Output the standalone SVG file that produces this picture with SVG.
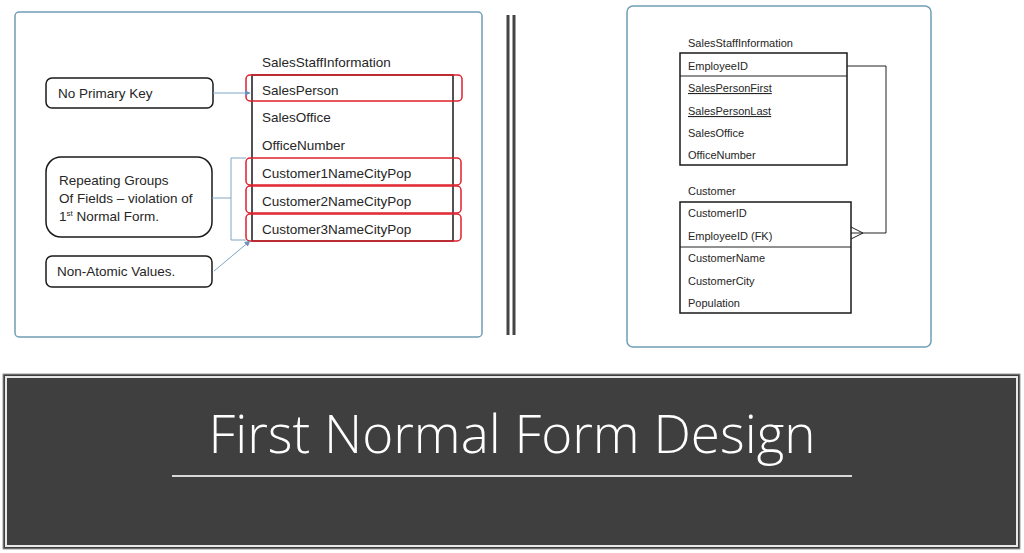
<svg xmlns="http://www.w3.org/2000/svg" width="1024" height="553" viewBox="0 0 1024 553">
<style>
.panel{fill:#fff;stroke:#6f9fb4;stroke-width:1.5}
.t{font-family:"Liberation Sans",Arial,sans-serif;font-size:13.5px;fill:#262626}
.s{font-family:"Liberation Sans",Arial,sans-serif;font-size:11px;fill:#262626}
.box{fill:#fff;stroke:#1a1a1a;stroke-width:1.5}
.red{fill:none;stroke:#e0212b;stroke-width:1.5}
.conn{fill:none;stroke:#7fa6c4;stroke-width:1}
.blk{fill:none;stroke:#222;stroke-width:1}
</style>
<defs>
<marker id="ah" viewBox="0 0 10 10" refX="9" refY="5" markerWidth="6" markerHeight="6" orient="auto"><path d="M0,0 L10,5 L0,10 z" fill="#6f8fc0"/></marker>
</defs>
<rect width="1024" height="553" fill="#fff"/>
<g id="left-panel">
<rect class="panel" x="15" y="12" width="467" height="325" rx="4"/>
</g>
<g id="table-1nf">
<text class="t" x="262" y="67">SalesStaffInformation</text>
<rect fill="none" stroke="#1a1a1a" stroke-width="1.5" x="252" y="75" width="201" height="166"/>
<text class="t" x="262" y="95">SalesPerson</text>
<text class="t" x="262" y="122">SalesOffice</text>
<text class="t" x="262" y="150">OfficeNumber</text>
<text class="t" x="262" y="178">Customer1NameCityPop</text>
<text class="t" x="262" y="206">Customer2NameCityPop</text>
<text class="t" x="262" y="234">Customer3NameCityPop</text>
<rect class="red" x="246" y="75" width="216" height="26" rx="4"/>
<rect class="red" x="246" y="158" width="215" height="27" rx="4"/>
<rect class="red" x="246" y="186" width="215" height="27" rx="4"/>
<rect class="red" x="246" y="214" width="215" height="27" rx="4"/>
</g>
<g id="note-pk">
<rect class="box" x="46" y="78" width="167" height="30" rx="6"/>
<text class="t" x="58" y="98">No Primary Key</text>
</g>
<g id="note-repeat">
<rect class="box" x="46" y="157" width="166" height="80" rx="15"/>
<text class="t" x="59" y="185">Repeating Groups</text>
<text class="t" x="59" y="203">Of Fields – violation of</text>
<text class="t" x="59" y="221">1<tspan font-size="8" dy="-5">st</tspan><tspan dy="5"> Normal Form.</tspan></text>
</g>
<g id="note-atomic">
<rect class="box" x="46" y="256" width="166" height="31" rx="6"/>
<text class="t" x="57" y="276">Non-Atomic Values.</text>
</g>
<g id="divider">
<line x1="508" y1="15" x2="508" y2="335" stroke="#444" stroke-width="3"/>
<line x1="514" y1="15" x2="514" y2="335" stroke="#444" stroke-width="3"/>
</g>
<g id="right-panel">
<rect class="panel" x="627" y="6" width="304" height="341" rx="6"/>
</g>
<g id="table-staff">
<text class="s" x="688" y="47">SalesStaffInformation</text>
<rect class="box" x="680" y="53" width="167" height="112"/>
<line class="blk" x1="680" y1="76" x2="847" y2="76" stroke-width="1.5"/>
<text class="s" x="688" y="70">EmployeeID</text>
<text class="s" x="688" y="92" text-decoration="underline" style="text-decoration-color:#c0506a">SalesPersonFirst</text>
<text class="s" x="688" y="115" text-decoration="underline" style="text-decoration-color:#c0506a">SalesPersonLast</text>
<text class="s" x="688" y="137">SalesOffice</text>
<text class="s" x="688" y="159">OfficeNumber</text>
</g>
<g id="table-customer">
<text class="s" x="688" y="195">Customer</text>
<rect class="box" x="680" y="202" width="171" height="111"/>
<line class="blk" x1="680" y1="247" x2="851" y2="247" stroke-width="1.5"/>
<text class="s" x="688" y="217">CustomerID</text>
<text class="s" x="688" y="240">EmployeeID (FK)</text>
<text class="s" x="688" y="262">CustomerName</text>
<text class="s" x="688" y="285">CustomerCity</text>
<text class="s" x="688" y="307">Population</text>
</g>
<g id="connectors">
<line class="conn" x1="213" y1="93" x2="250" y2="93" marker-end="url(#ah)"/>
<path class="conn" d="M246,158 H231 V240 H246 M212,198 H231"/>
<line class="conn" x1="214" y1="271" x2="250" y2="241" marker-end="url(#ah)"/>
<path class="blk" d="M847,66 H886 V233 H851"/>
<path class="blk" d="M851,227 L863,233 L851,239"/>
</g>
<g id="banner">
<rect x="3" y="374" width="1017" height="175" fill="#3f3f3f" stroke="#9a9a9a" stroke-width="1"/>
<rect x="6" y="377" width="1011" height="169" fill="none" stroke="#e8e8e8" stroke-width="2"/>
<text x="512" y="453" text-anchor="middle" font-family="'Open Sans',sans-serif" font-weight="300" font-size="53" fill="#fff">First Normal Form Design</text>
<line x1="172" y1="476" x2="852" y2="476" stroke="#d8d8d8" stroke-width="2"/>
</g>
</svg>
